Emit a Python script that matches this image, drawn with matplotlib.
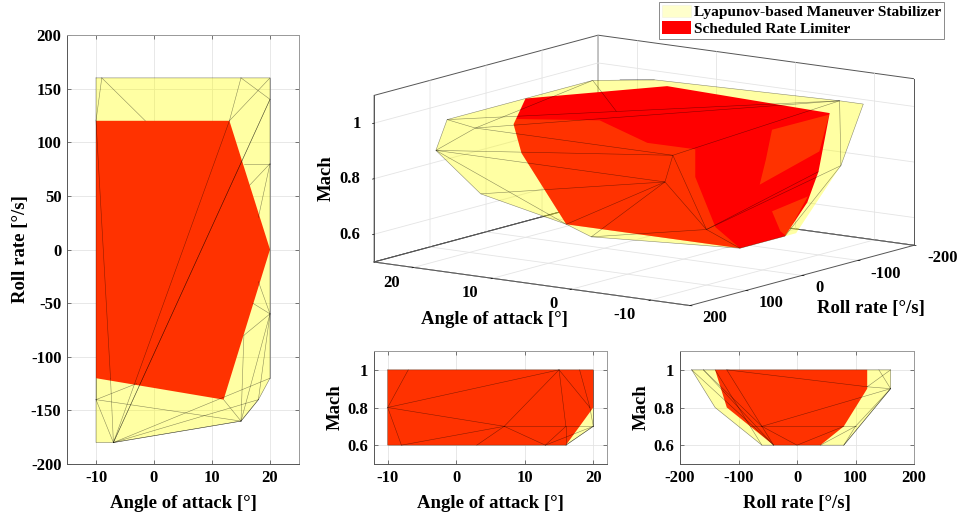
import matplotlib
matplotlib.use("Agg")
import matplotlib.pyplot as plt
from matplotlib.patches import Patch
from mpl_toolkits.mplot3d import proj3d
from mpl_toolkits.mplot3d.art3d import Poly3DCollection, Line3DCollection

plt.rcParams["font.family"] = ["Liberation Serif", "DejaVu Serif"]
plt.rcParams["font.weight"] = "bold"
plt.rcParams["axes.labelweight"] = "bold"
plt.rcParams["axes.unicode_minus"] = False
plt.rcParams["grid.color"] = "#e4e4e4"
plt.rcParams["grid.linewidth"] = 0.6

LEGEND_LABELS = ["Lyapunov-based Maneuver Stabilizer", "Scheduled Rate Limiter"]
ALPHA_LABEL = "Angle of attack [°]"
ROLL_LABEL = "Roll rate [°/s]"

# angle of attack / roll rate projection
YELLOW_AP = [(-10, 160), (20, 160), (20, -120), (18, -140), (15, -160), (-7, -180), (-10, -180)]
RED_AP = [(-10, 120), (13, 120), (20, 0), (12, -140), (-10, -120)]
MESH_AP = [
    ((-9, 160), (-1.5, 120)), ((-10, 120), (-9, 160)), ((15, 160), (13, 120)), ((13, 120), (-7, -180)),
    ((20, 160), (13, 120)), ((15, 160), (20, 140)), ((20, 140), (-7, -180)), ((20, 140), (-7, -180)),
    ((15.5, 80), (20, 80)), ((20, 80), (16.5, 60)), ((20, 80), (18, 30)), ((-10, 120), (-7.5, -120)),
    ((-7.5, -120), (-7, -180)), ((-10, -140), (-3, -125)), ((-10, -140), (-7, -180)), ((-10, -140), (15, -160)),
    ((12, -140), (15, -160)), ((-7, -180), (20, -120)), ((-7, -180), (18, -140)), ((-7, -180), (15, -160)),
    ((15, -160), (15.5, -80)), ((15.5, -80), (20, -60)), ((15, -160), (20, -60)), ((18, -140), (20, -60)),
    ((20, -60), (18, -30)), ((17, -50), (20, -60)), ((-10, -120), (-10, -140)), ((15, -160), (18, -140)),
    ((20, -120), (20, 160)),
]

# angle of attack / Mach projection
YELLOW_AM = [(-10, 1), (20, 1), (20, 0.7), (16, 0.6), (-10, 0.6)]
RED_AM = [(-10, 1), (20, 1), (20, 0.8), (16, 0.6), (-10, 0.6)]
MESH_AM = [
    ((-10, 0.8), (15, 1)), ((-10, 0.8), (7, 0.7)), ((-10, 0.8), (-8, 0.6)), ((-8, 0.6), (7, 0.7)),
    ((3, 0.6), (7, 0.7)), ((7, 0.7), (15, 1)), ((7, 0.7), (20, 0.7)), ((13, 0.6), (7, 0.7)),
    ((13, 0.6), (16, 0.7)), ((13, 0.6), (20, 0.7)), ((15, 1), (16, 0.7)), ((16, 0.7), (16, 0.6)),
    ((15, 1), (19.5, 0.8)), ((18, 1), (19.5, 0.8)), ((19.5, 0.8), (20, 0.7)), ((-10, 0.8), (-7, 1)),
    ((16, 0.6), (20, 0.7)), ((20, 0.7), (20, 1)),
]

# roll rate / Mach projection
YELLOW_PM = [(-180, 1), (160, 1), (160, 0.9), (80, 0.6), (-60, 0.6), (-140, 0.8)]
RED_PM = [(-140, 1), (120, 1), (120, 0.9), (110, 0.85), (80, 0.7), (40, 0.6), (-40, 0.6), (-120, 0.8)]
MESH_PM = [
    ((-160, 1), (-40, 0.6)), ((-140, 1), (-60, 0.6)), ((-120, 1), (120, 0.91)), ((-120, 1), (-60, 0.7)),
    ((-60, 0.7), (-40, 0.6)), ((-60, 0.7), (160, 0.9)), ((-80, 0.7), (100, 0.7)), ((0, 0.6), (-60, 0.7)),
    ((0, 0.6), (80, 0.7)), ((40, 0.6), (100, 0.7)), ((80, 0.6), (100, 0.7)), ((80, 0.6), (160, 0.9)),
    ((100, 0.7), (160, 0.9)), ((120, 0.91), (160, 0.9)), ((160, 1), (120, 0.91)), ((160, 0.9), (140, 1)),
    ((-160, 1), (-60, 0.7)), ((-180, 1), (-40, 0.6)),
]

# full 3D hulls (angle of attack, roll rate, Mach)
YELLOW_3D = [
    (20, 160, 0.9), (20, 140, 1), (20, -120, 1), (15, -160, 1), (-7, -180, 1), (-10, -180, 1),
    (-10, -140, 0.8), (-10, -60, 0.6), (-10, -40, 0.6), (-10, 40, 0.6), (6, 80, 0.6), (12, 40, 0.6), (20, 80, 0.7),
]
RED_3D = [
    (13, 120, 1), (20, 0, 1), (12, -140, 1), (-10, -120, 1), (-10, -110, 0.9), (-10, -100, 0.8),
    (-10, -80, 0.7), (-10, -40, 0.6), (-10, 40, 0.6), (12, 40, 0.6), (12, 120, 0.9),
]
# parts of the red hull that sit behind the yellow surface
SHADED_3D = [
    [(14.5, 96, 1), (7, 51, 1), (-4, 121, 1), (-10, 120, 1), (-10, 120, 0.9), (-10, 84, 0.7), (-10, 40, 0.6),
     (12, 40, 0.6), (12, 120, 0.9), (13, 120, 1)],
    [(-10, -17, 0.996), (-10, -119, 0.995), (-10, -101.5, 0.872), (-10, 5, 0.81), (-10, -6, 0.894)],
    [(-10, -17, 0.702), (-10, -81, 0.721), (-10, -42, 0.6), (-10, -32, 0.622)],
]
MESH_3D = [
    ((20, 160, 0.9), (-10, 160, 1)), ((20, 160, 0.9), (-9, 160, 0.9)), ((20, 160, 0.9), (20, 80, 0.7)),
    ((20, 160, 0.9), (20, 140, 1)), ((20, 140, 1), (15, 160, 1)), ((15, 160, 1), (-10, 160, 1)),
    ((15, 160, 1), (20, 160, 0.9)), ((15, 160, 1), (20, -120, 1)), ((20, 140, 1), (20, -120, 1)),
    ((15, 160, 1), (-7, -180, 1)), ((20, 140, 1), (-7, -180, 1)), ((-10, 160, 1), (-7, -180, 1)),
    ((-10, 160, 1), (-10, 100, 0.7)), ((-10, 160, 1), (-9, 160, 0.9)), ((-9, 160, 0.9), (-10, 100, 0.7)),
    ((-9, 160, 0.9), (6, 80, 0.6)), ((-9, 160, 0.9), (12, 40, 0.6)), ((-10, 100, 0.7), (-10, 40, 0.6)),
    ((-10, 100, 0.7), (6, 80, 0.6)), ((-10, 100, 0.7), (-10, -140, 0.8)), ((-10, 100, 0.7), (-10, -100, 0.8)),
    ((-10, 40, 0.6), (-10, -40, 0.6)), ((-10, -40, 0.6), (-10, -140, 0.8)), ((-10, -140, 0.8), (-10, -180, 1)),
    ((-10, -180, 1), (-7, -180, 1)), ((-7, -180, 1), (15, -160, 1)), ((15, -160, 1), (20, -120, 1)),
    ((20, 80, 0.7), (12, 40, 0.6)), ((12, 40, 0.6), (6, 80, 0.6)), ((20, 160, 0.9), (12, 40, 0.6)),
    ((20, 80, 0.7), (-9, 160, 0.9)), ((-7, -180, 1), (-10, -140, 0.8)), ((6, 80, 0.6), (-10, 40, 0.6)),
    ((15, -160, 1), (18, -140, 1)), ((20, -120, 1), (17, -120, 0.9)),
]

ALPHA_TICKS = [-10, 0, 10, 20]
ROLL_TICKS = [-200, -100, 0, 100, 200]
MACH_TICKS = [0.6, 0.8, 1]
MACH_TICK_LABELS = ["0.6", "0.8", "1"]

fig = plt.figure(figsize=(9.58, 5.18), dpi=100)


def px_rect(x0, y0, x1, y1):
    return [x0 / 958, 1 - y1 / 518, (x1 - x0) / 958, (y1 - y0) / 518]


def px_text(x, y, text, size=12, rotation=0):
    fig.text(x / 958, 1 - y / 518, text, fontsize=size, rotation=rotation, ha="center", va="center")


def draw_panel(rect, yellow, red, mesh, xlim, ylim, xticks, yticks, xlabel, ylabel, ypad, yticklabels=None):
    ax = fig.add_axes(px_rect(*rect))
    ax.fill(*zip(*yellow), facecolor="yellow", alpha=0.2, lw=0)
    ax.fill(*zip(*red), facecolor="red", lw=0)
    ax.fill(*zip(*yellow), facecolor="yellow", alpha=0.2, lw=0)
    outline = list(yellow) + [yellow[0]]
    ax.plot(*zip(*outline), color="black", lw=0.4, alpha=0.5)
    for start, end in mesh:
        ax.plot([start[0], end[0]], [start[1], end[1]], color="black", lw=0.4, alpha=0.45)
    ax.set_xlim(xlim)
    ax.set_ylim(ylim)
    ax.set_xticks(xticks)
    ax.set_yticks(yticks)
    if yticklabels:
        ax.set_yticklabels(yticklabels)
    ax.grid(True)
    ax.set_axisbelow(True)
    ax.tick_params(direction="in", length=3, width=0.5, color="#444444", labelsize=12, top=True, right=True, pad=4)
    ax.set_xlabel(xlabel, fontsize=13.5, labelpad=7)
    ax.set_ylabel(ylabel, fontsize=13.5, labelpad=ypad)
    for name, spine in ax.spines.items():
        spine.set_linewidth(0.7)
        spine.set_color("#555555" if name in ("left", "bottom") else "#999999")
    return ax


draw_panel((67, 35, 299, 464), YELLOW_AP, RED_AP, MESH_AP, (-15, 25), (-200, 200),
           ALPHA_TICKS, [-200, -150, -100, -50, 0, 50, 100, 150, 200], ALPHA_LABEL, ROLL_LABEL, 1)
draw_panel((374, 351, 607, 464), YELLOW_AM, RED_AM, MESH_AM, (-12, 22), (0.5, 1.1),
           ALPHA_TICKS, MACH_TICKS, ALPHA_LABEL, "Mach", 3, MACH_TICK_LABELS)
draw_panel((680, 351, 914, 464), YELLOW_PM, RED_PM, MESH_PM, (-200, 200), (0.5, 1.1),
           ROLL_TICKS, MACH_TICKS, ROLL_LABEL, "Mach", 3, MACH_TICK_LABELS)

ax3 = fig.add_axes(px_rect(300, 0, 840, 540), projection="3d")
ax3.patch.set_visible(False)
ax3.set_proj_type("ortho")
ax3.set_box_aspect((388.7, 385, 169.8))
ax3.view_init(elev=11.1, azim=125.6)
ax3.computed_zorder = False
ax3.set_xlim(-15, 25)
ax3.set_ylim(-200, 200)
ax3.set_zlim(0.5, 1.1)
ax3.set_xticks(ALPHA_TICKS)
ax3.set_yticks(ROLL_TICKS)
ax3.set_zticks(MACH_TICKS)
ax3.set_xticklabels([])
ax3.set_yticklabels([])
ax3.set_zticklabels([])
ax3.zaxis.set_ticks_position("upper")
for axis in (ax3.xaxis, ax3.yaxis, ax3.zaxis):
    axis.set_pane_color((1, 1, 1, 1))
    axis.pane.set_edgecolor("#555555")
    axis.pane.set_linewidth(0.7)
    axis.line.set_color("#555555")
    axis.line.set_linewidth(0.7)
    axis._axinfo["tick"]["inward_factor"] = 0.08
    axis._axinfo["tick"]["outward_factor"] = 0.0
    axis._axinfo["tick"]["linewidth"] = {True: 0.5, False: 0.5}

# the pane outline leaves some of the box edges open
ax3.plot([-15, -15], [-200, -200], [0.5, 1.1], color="#555555", lw=0.7, zorder=0, clip_on=False)
ax3.plot([-15, 25], [-200, -200], [0.5, 0.5], color="#555555", lw=0.7, zorder=0, clip_on=False)
ax3.plot([25, 25], [-200, 200], [0.5, 0.5], color="#555555", lw=0.7, zorder=0, clip_on=False)

yellow_layer = Poly3DCollection([YELLOW_3D, YELLOW_3D], facecolors=(1, 1, 0, 0.2), edgecolors="none", zorder=1)
red_layer = Poly3DCollection([RED_3D], facecolors="red", edgecolors="none", zorder=2)
shade_layer = Poly3DCollection(SHADED_3D, facecolors=(1, 1, 0, 0.2), edgecolors="none", zorder=3)
mesh_layer = Line3DCollection(MESH_3D, colors=[(0, 0, 0, 0.45)], linewidths=0.4, zorder=4)
ax3.add_collection3d(yellow_layer)
ax3.add_collection3d(red_layer)
ax3.add_collection3d(shade_layer)
ax3.add_collection3d(mesh_layer)


def corner_px(ax, x, y, z):
    fig.canvas.draw()
    u, v, _ = proj3d.proj_transform(x, y, z, ax.get_proj())
    return ax.transData.transform((u, v))


# scale and shift the 3D box so that its left and right corners land where they belong
left_target = (374, 518 - 262)
right_target = (914, 518 - 246)
left_now = corner_px(ax3, 25, 200, 0.5)
right_now = corner_px(ax3, -15, -200, 0.5)
pos = ax3.get_position()
factor = (right_target[0] - left_target[0]) / (right_now[0] - left_now[0])
ax3.set_position([pos.x0, pos.y0, pos.width * factor, pos.height * factor])
left_now = corner_px(ax3, 25, 200, 0.5)
pos = ax3.get_position()
ax3.set_position([pos.x0 + (left_target[0] - left_now[0]) / 958, pos.y0 + (left_target[1] - left_now[1]) / 518,
                  pos.width, pos.height])

# 3D tick labels and axis titles
for x, y, label in zip([350, 350, 357], [235, 179, 124], MACH_TICK_LABELS):
    px_text(x, y, label)
for x, y, label in zip([625, 553, 470, 392], [315, 304, 293, 283], ALPHA_TICKS):
    px_text(x, y, str(label))
for x, y, label in zip([943, 886, 819, 771, 715], [258, 274, 288, 303, 318], ROLL_TICKS):
    px_text(x, y, str(label))
px_text(326, 178, "Mach", 13.5, 90)
px_text(494, 320, ALPHA_LABEL, 13.5)
px_text(871, 308, ROLL_LABEL, 13.5)

handles = [Patch(facecolor="yellow", alpha=0.2, edgecolor="#bbbbbb", lw=0.4), Patch(facecolor="red", edgecolor="none")]
fig.legend(handles, LEGEND_LABELS, loc="upper left", bbox_to_anchor=(659 / 958, 1 - 1.5 / 518), fontsize=11.1,
           fancybox=False, framealpha=1, edgecolor="#777777", borderaxespad=0, handlelength=1.85, handleheight=0.85,
           handletextpad=0.2, labelspacing=0.15, borderpad=0.2).get_frame().set_linewidth(0.6)

fig.savefig("out.png", dpi=100)
